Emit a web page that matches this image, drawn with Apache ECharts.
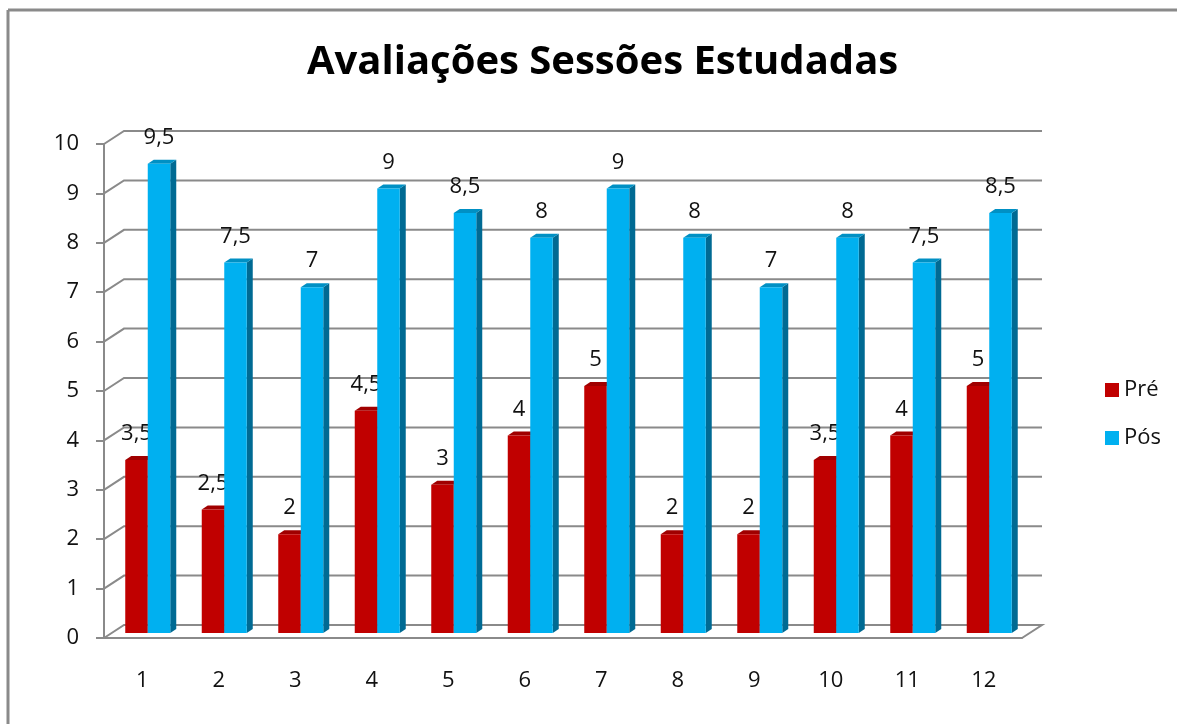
<!DOCTYPE html>
<html>
<head>
<meta charset="utf-8">
<script src="https://cdn.jsdelivr.net/npm/echarts@6/dist/echarts.min.js"></script>
<style>html,body{margin:0;padding:0;background:#fff;}#c{width:1177px;height:724px;}</style>
</head>
<body>
<div id="c"></div>
<script>
const categories = ['1','2','3','4','5','6','7','8','9','10','11','12'];
const pre = [3.5, 2.5, 2, 4.5, 3, 4, 5, 2, 2, 3.5, 4, 5];
const pos = [9.5, 7.5, 7, 9, 8.5, 8, 9, 8, 7, 8, 7.5, 8.5];
const yTicks = [0,1,2,3,4,5,6,7,8,9,10];
const seriesNames = ['Pré', 'Pós'];
const titleText = 'Avaliações Sessões Estudadas';

const FONT = 'Open Sans';
const GRID_COLOR = '#8a8a8a';
const BACK_DX = 20, BACK_DY = -13;
const BAR_DX = 5.5, BAR_DY = -5, BAR_W = 22.5, DEP_X = 6, DEP_Y = -4;

function fmt(v){ return String(v).replace('.', ','); }

function gridRender(params, api){
  const v = api.value(1);
  const band = api.size([1,0])[0];
  const p0 = api.coord([0, v]);
  const pN = api.coord([categories.length-1, v]);
  const xs = p0[0] - band/2, xe = pN[0] + band/2, y = p0[1];
  let pts;
  if (v === 0) {
    pts = [[xs, y],[xs+BACK_DX, y+BACK_DY],[xe+BACK_DX, y+BACK_DY],[xe, y]];
  } else {
    pts = [[xs, y],[xs+BACK_DX, y+BACK_DY],[xe+BACK_DX, y+BACK_DY]];
  }
  return {type:'polyline', shape:{points:pts}, style:{stroke:GRID_COLOR, lineWidth:2, fill:null}};
}

function makeBarRender(side, front, top, dark){
  return function(params, api){
    const idx = api.value(0), val = api.value(1);
    const c0 = api.coord([idx, 0]);
    const c1 = api.coord([idx, val]);
    const cx = c0[0] + BAR_DX;
    const x0 = side === 0 ? cx - BAR_W : cx;
    const x1 = x0 + BAR_W;
    const yb = c0[1] + BAR_DY, yt = c1[1] + BAR_DY;
    return {type:'group', children:[
      {type:'polygon', shape:{points:[[x1,yb],[x1+DEP_X,yb+DEP_Y],[x1+DEP_X,yt+DEP_Y],[x1,yt]]}, style:{fill:dark}},
      {type:'polygon', shape:{points:[[x0,yt],[x0+DEP_X,yt+DEP_Y],[x1+DEP_X,yt+DEP_Y],[x1,yt]]}, style:{fill:top}},
      {type:'rect', shape:{x:x0, y:yt, width:BAR_W, height:yb-yt}, style:{fill:front}},
      {type:'text', x:(x0+x1)/2, y:yt-15, style:{text:fmt(val), fontFamily:FONT, fontSize:22, fill:'#111', align:'center', verticalAlign:'bottom'}}
    ]};
  };
}

const chart = echarts.init(document.getElementById('c'), null, {renderer:'canvas'});
chart.setOption({
  animation:false,
  backgroundColor:'#fff',
  title:{text:titleText, left:302, top:38, textStyle:{fontFamily:FONT, fontSize:40, fontWeight:'bold', color:'#000'}},
  legend:{orient:'vertical', left:1100, top:374, itemWidth:14, itemHeight:14, itemGap:26, icon:'rect',
    textStyle:{fontFamily:FONT, fontSize:22, color:'#111'}, data:seriesNames},
  grid:{left:104, top:144, width:918, height:494},
  xAxis:{type:'category', data:categories,
    axisLine:{lineStyle:{color:GRID_COLOR, width:2}},
    axisTick:{length:9, lineStyle:{color:GRID_COLOR, width:2}},
    axisLabel:{margin:32, fontFamily:FONT, fontSize:22, color:'#111'}},
  yAxis:{type:'value', min:0, max:10, interval:1,
    axisLine:{show:true, lineStyle:{color:GRID_COLOR, width:2}},
    axisTick:{show:true, length:8, lineStyle:{color:GRID_COLOR, width:2}},
    splitLine:{show:false},
    axisLabel:{margin:25, fontFamily:FONT, fontSize:22, color:'#111'}},
  graphic:[
    {type:'line', shape:{x1:8, y1:10, x2:1177, y2:10}, style:{stroke:'#8a8a8a', lineWidth:3}},
    {type:'line', shape:{x1:8, y1:10, x2:8, y2:724}, style:{stroke:'#8a8a8a', lineWidth:3}}
  ],
  series:[
    {type:'custom', name:'grid', silent:true, z:1, renderItem:gridRender, data:yTicks.map(v=>[0,v]), legendHoverLink:false},
    {type:'custom', name:seriesNames[0], z:3, itemStyle:{color:'#C00000'}, renderItem:makeBarRender(0,'#C00000','#A00000','#7A0000'), data:pre.map((v,i)=>[i,v])},
    {type:'custom', name:seriesNames[1], z:3, itemStyle:{color:'#00B0F0'}, renderItem:makeBarRender(1,'#00B0F0','#0090C4','#006A93'), data:pos.map((v,i)=>[i,v])}
  ]
});
</script>
</body>
</html>
